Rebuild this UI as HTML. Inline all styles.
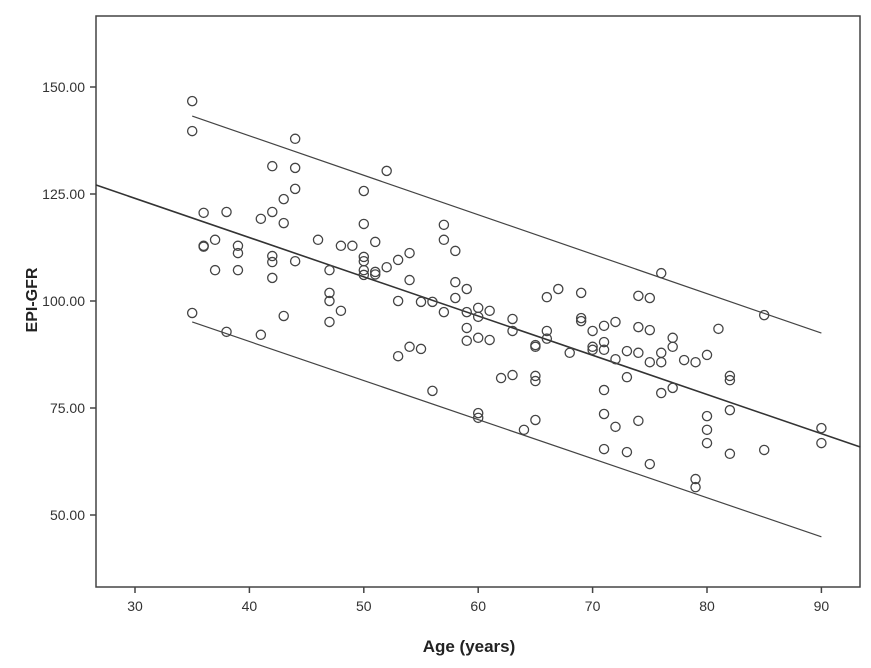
<!DOCTYPE html>
<html><head><meta charset="utf-8"><style>
html,body{margin:0;padding:0;background:#fff;}
svg{display:block;font-family:"Liberation Sans",Arial,sans-serif;}
</style></head><body>
<svg id="chart" width="871" height="668">
<rect x="96" y="16" width="764" height="571" fill="none" stroke="#444" stroke-width="1.5"/>
<g id="axes"></g><g id="lines"></g><g id="points"></g>
<text x="469" y="652" text-anchor="middle" font-size="17" font-weight="bold" fill="#222">Age (years)</text>
<text transform="translate(37,300) rotate(-90)" text-anchor="middle" font-size="16" font-weight="bold" fill="#222">EPI-GFR</text>
</svg>
<script>
const xTicks=[30,40,50,60,70,80,90];
const yTicks=[50,75,100,125,150];
const yTickLabels=["50.00","75.00","100.00","125.00","150.00"];
const ages=[35,35,35,36,36,36,37,37,38,38,39,39,39,41,41,42,42,42,42,42,43,43,43,44,44,44,44,46,47,47,47,47,48,48,49,50,50,50,50,50,50,51,51,51,52,52,53,53,53,54,54,54,55,55,56,56,57,57,57,58,58,58,59,59,59,59,60,60,60,60,60,61,61,62,63,63,63,64,65,65,65,65,65,66,66,66,67,68,69,69,69,70,70,70,71,71,71,71,71,71,72,72,72,73,73,73,74,74,74,74,75,75,75,75,76,76,76,76,77,77,77,78,79,79,79,80,80,80,80,81,82,82,82,82,85,85,90,90];
const gfr=[146.7,139.7,97.2,120.6,112.9,112.7,114.3,107.2,120.8,92.8,112.9,111.2,107.2,119.2,92.1,131.5,120.8,110.5,109.1,105.4,123.8,118.2,96.5,137.9,131.1,126.2,109.3,114.3,107.2,101.9,100,95.1,112.9,97.7,112.9,125.7,118,110.3,109.3,107.2,106.1,113.8,106.8,106.2,130.4,107.9,109.6,100,87.1,111.2,104.9,89.3,99.8,88.8,99.8,79,117.8,114.3,97.4,111.7,104.4,100.7,102.8,97.4,93.7,90.7,98.4,96.3,91.4,73.8,72.7,97.7,90.9,82,95.8,93,82.7,69.9,89.7,89.3,82.5,81.3,72.2,100.9,93,91.2,102.8,87.9,101.9,96,95.3,93,89.3,88.6,94.2,90.4,88.6,79.2,73.6,65.4,95.1,86.4,70.6,88.3,82.2,64.7,101.2,93.9,87.9,72,100.7,93.2,85.7,61.9,106.5,87.9,85.7,78.5,91.4,89.3,79.7,86.2,85.7,58.4,56.5,87.4,73.1,69.9,66.8,93.5,82.5,81.5,74.5,64.3,96.7,65.2,70.3,66.8];
const fitAges=[35,90];
const fitMain=[119.4,69.0];
const fitUpper=[143.2,92.5];
const fitLower=[95.1,44.9];
const NS="http://www.w3.org/2000/svg";
const sx=a=>135+(a-30)*11.44;
const sy=v=>87+(150-v)*4.28;
function mk(tag,attrs,parent){const e=document.createElementNS(NS,tag);for(const k in attrs)e.setAttribute(k,attrs[k]);parent.appendChild(e);return e;}
const axes=document.getElementById('axes');
xTicks.forEach(t=>{
  const l=mk('line',{x1:sx(t),x2:sx(t),y1:587,y2:593,stroke:'#444','stroke-width':1.5},axes);
  
  
  const tx=mk('text',{x:sx(t),y:611,'text-anchor':'middle','font-size':14,fill:'#333'},axes);
  tx.textContent=t;
  
  
});
yTicks.forEach((t,i)=>{
  const l=mk('line',{x1:90,x2:96,y1:sy(t),y2:sy(t),stroke:'#444','stroke-width':1.5},axes);
  
  
  const tx=mk('text',{x:85,y:sy(t)+5,'text-anchor':'end','font-size':14,fill:'#333'},axes);
  tx.textContent=yTickLabels[i];
  
  
});
const lines=document.getElementById('lines');
const slope=(fitMain[1]-fitMain[0])/(fitAges[1]-fitAges[0]);
const xMin=26.6,xMax=93.4;
const mainY=a=>fitMain[0]+slope*(a-fitAges[0]);
const ml=mk('line',{x1:sx(xMin),y1:sy(mainY(xMin)),x2:sx(xMax),y2:sy(mainY(xMax)),stroke:'#333','stroke-width':1.6},lines);


const ul=mk('line',{x1:sx(fitAges[0]),y1:sy(fitUpper[0]),x2:sx(fitAges[1]),y2:sy(fitUpper[1]),stroke:'#444','stroke-width':1.2},lines);


const ll=mk('line',{x1:sx(fitAges[0]),y1:sy(fitLower[0]),x2:sx(fitAges[1]),y2:sy(fitLower[1]),stroke:'#444','stroke-width':1.2},lines);


const pts=document.getElementById('points');
ages.forEach((a,i)=>{
  const c=mk('circle',{cx:sx(a),cy:sy(gfr[i]),r:4.6,fill:'none',stroke:'#444','stroke-width':1.3},pts);
  
  
});
</script>
</body></html>
